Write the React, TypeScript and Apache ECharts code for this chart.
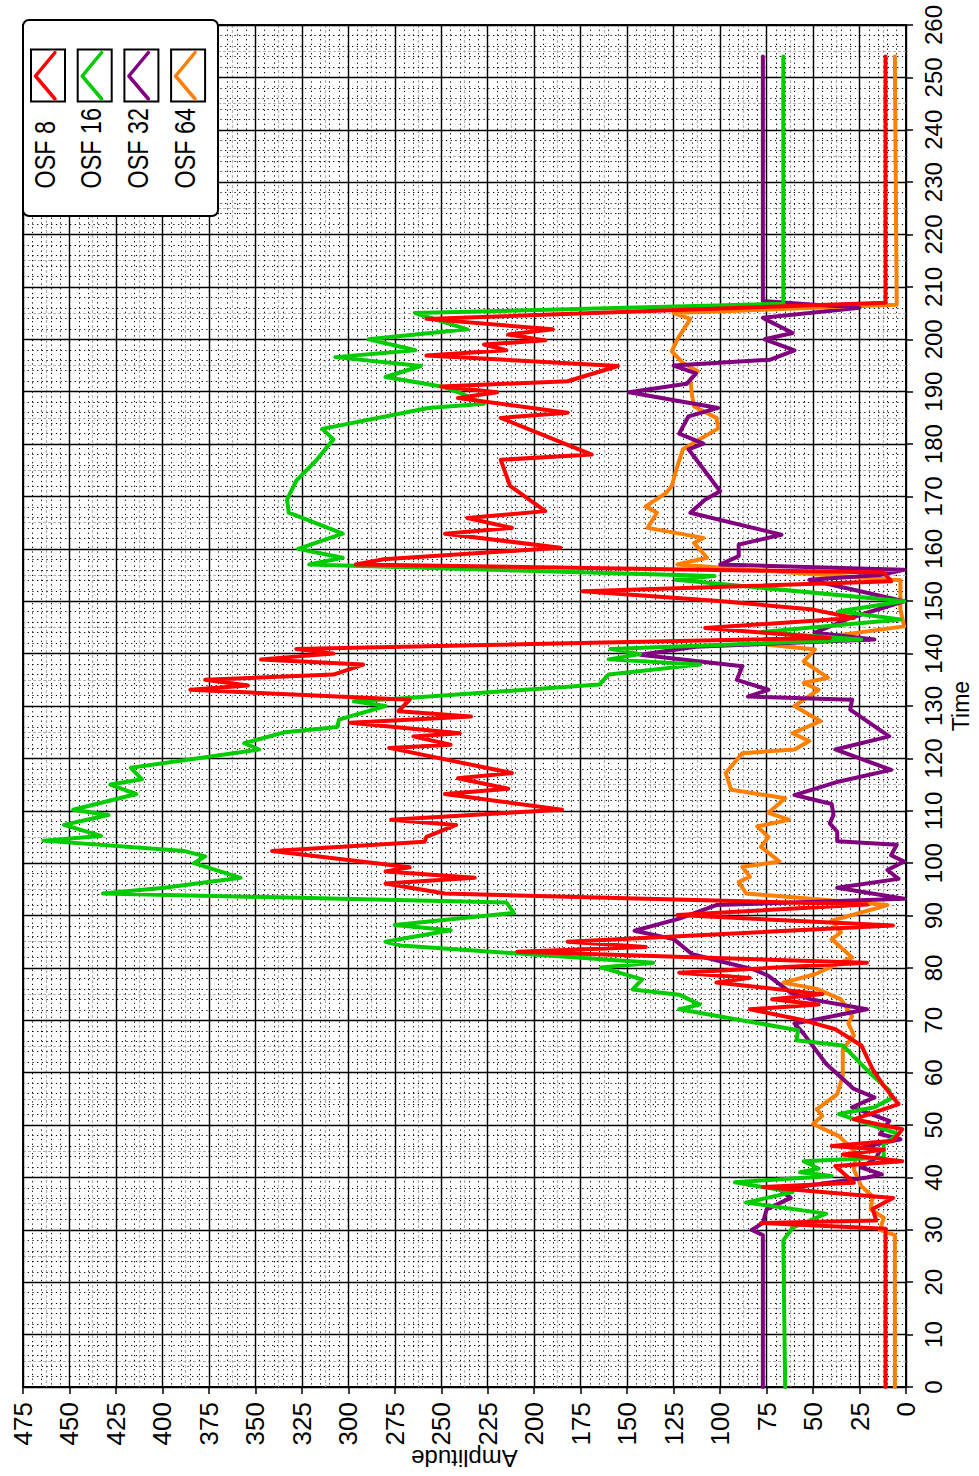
import React, { useEffect, useRef } from "react";
import * as echarts from "echarts";

// [time, amplitude]
const osf8: [number, number][] = [
  [0, 11], [30.2, 11], [31.3, 78], [31.8, 16], [34, 18], [36.1, 7], [38.2, 77], [39, 28], [42.2, 38], [43.1, 2],
  [44.4, 34], [45.3, 12], [46, 40], [47, 7], [49.2, 2], [51.1, 28], [54, 4], [57.5, 12], [60.7, 18], [65.2, 24],
  [68.3, 38], [70, 55], [72.1, 84], [73, 47], [74, 72], [75, 45], [77.2, 102], [78.1, 84], [79.1, 122], [81, 21],
  [83.1, 209], [84, 140], [85, 182], [88.1, 7], [90.1, 123], [92.1, 21], [94.2, 248], [96.1, 280], [97.2, 232],
  [98.4, 280], [99.2, 267], [102.3, 341], [104.1, 259], [105, 258], [107.3, 242], [108.3, 277], [110.2, 185],
  [113.2, 248], [114.2, 214], [116.2, 241], [117.2, 212], [122, 278], [122.6, 245], [124.2, 265], [124.8, 240],
  [126.8, 299], [128, 234], [129, 273], [131.2, 267], [133.1, 385], [133.9, 354], [135, 377], [136, 308],
  [137.9, 292], [138.9, 347], [140, 308], [140.9, 328], [143, 41], [144.9, 108], [146.8, 28], [148.4, 50],
  [150, 99], [151.9, 174], [153.8, 8], [155.5, 12], [157, 296], [158, 281], [160.2, 186], [162.9, 248],
  [164, 212], [165.9, 236], [167.2, 194], [172, 213], [177, 218], [178, 169], [185, 218], [186, 182],
  [188.8, 241], [189.9, 220], [191, 250], [192, 182], [194.9, 155], [196.9, 258], [197.9, 215], [199, 227],
  [199.8, 194], [200.9, 214], [201.9, 190], [203.9, 258], [207, 11], [254, 11],
];

const osf16: [number, number][] = [
  [0, 65], [28, 66], [30.4, 61], [33.1, 43], [35.2, 86], [37.2, 61], [39.1, 92], [40.3, 40], [41, 57], [41.7, 47],
  [43.1, 55], [43.8, 12], [46.3, 12], [48.3, 4], [52.1, 36], [53.4, 17], [55.1, 8], [56.6, 9], [59.8, 19],
  [65.2, 34], [66.2, 59], [68.1, 58], [72.1, 122], [73, 111], [74.9, 122], [75.9, 147], [77.8, 142], [80.1, 164],
  [81, 136], [84.3, 272], [85, 280], [87.2, 245], [88.2, 275], [90.5, 211], [92.5, 215], [94.2, 432], [95.3, 399],
  [97.2, 358], [100, 383], [101.3, 377], [102.3, 388], [104.3, 464], [105.2, 433], [107.3, 453], [109.2, 429],
  [110.2, 448], [113.2, 414], [115, 428], [116, 411], [118.2, 417], [121.7, 348], [122.9, 356], [125, 334],
  [126, 306], [127.4, 305], [130, 280], [130.9, 297], [131.5, 270], [134.1, 165], [136, 160], [137.9, 111],
  [138.9, 160], [139.9, 143], [140.9, 159], [142.7, 24], [144.1, 78], [146.5, 3], [148.1, 36], [150, 1],
  [154.1, 124], [154.8, 103], [157, 321], [158.3, 303], [160, 327], [162.9, 303], [166.9, 332], [169.4, 333],
  [173, 328], [177, 317], [180.9, 308], [182.9, 314], [186.9, 257], [187.7, 227], [189.8, 240], [191, 250],
  [192.8, 280], [194.9, 261], [196.6, 307], [197.9, 264], [200, 289], [201.9, 236], [205, 264], [206.8, 66],
  [254, 66],
];

const osf32: [number, number][] = [
  [0, 77], [29, 77], [30, 83], [31.3, 77], [33.9, 75], [36.1, 62], [37.7, 68], [40, 21], [40.6, 13], [41.9, 24],
  [43.8, 16], [45.1, 14], [45.7, 24], [47.3, 3], [48.3, 14], [50.8, 9], [53.4, 29], [55.3, 17], [56.9, 28],
  [61.7, 43], [67.4, 55], [69.4, 60], [70.1, 49], [72.1, 21], [74, 51], [75.3, 62], [78.5, 74], [79.7, 82],
  [82.6, 115], [85.5, 125], [87.1, 146], [89.4, 122], [92, 102], [93.2, 1], [95.3, 37], [97, 4], [98.7, 10],
  [100.3, 1], [101.5, 8], [103.5, 5], [104.2, 37], [106, 37], [107.6, 41], [109.2, 39], [111.3, 40], [113, 60],
  [115.6, 36], [117.8, 8], [121.7, 38], [124.2, 9], [129.3, 30], [131.2, 29], [131.8, 85], [133.1, 74], [135, 91],
  [137.6, 88], [139.8, 143], [141.3, 113], [142.7, 17], [144, 49], [146.8, 30], [150, 1], [154.1, 52], [155, 14],
  [156, 1], [157, 100], [158.6, 90], [160.8, 90], [162.7, 67], [166.9, 116], [169.4, 108], [171, 100], [179, 117],
  [180.1, 109], [182, 122], [185.3, 117], [186.9, 101], [189.9, 149], [191.5, 118], [193.5, 113], [195, 125],
  [196.1, 73], [197.9, 60], [200, 76], [201.2, 61], [204.1, 77], [206, 25], [207.3, 77], [254, 77],
];

const osf64: [number, number][] = [
  [0, 6], [29, 6], [30, 14], [32.3, 12], [33.9, 19], [36.4, 18], [38.3, 24], [41.5, 28], [44.7, 27], [47.9, 36],
  [50.2, 50], [51.8, 45], [53, 48], [55.9, 37], [59.4, 34], [64.5, 34], [67.1, 28], [69.4, 31], [70.8, 29],
  [74, 35], [76, 48], [77.2, 66], [78.8, 49], [82, 29], [85.5, 40], [86.8, 35], [89, 40], [92, 10], [94.2, 86],
  [96.4, 90], [97.4, 84], [99.3, 88], [100.3, 68], [103.1, 78], [105, 74], [107, 80], [108.3, 63], [109.6, 74],
  [112.4, 65], [114, 94], [117.2, 97], [121, 88], [121.7, 60], [123.3, 52], [124.8, 61], [127.1, 46], [130, 60],
  [131.2, 55], [133.1, 47], [134.4, 55], [135.4, 42], [138.5, 55], [140.8, 49], [141.7, 74], [145.2, 1],
  [148.4, 3], [154, 3], [157, 123], [158.3, 107], [161.1, 114], [162.1, 109], [164, 139], [166.9, 134],
  [168.1, 140], [170.7, 129], [172, 126], [175.8, 123], [179, 120], [183, 101], [185, 102], [187.2, 114],
  [189.1, 115], [192.3, 116], [193.9, 112], [195.5, 120], [197.7, 126], [200, 123], [203.9, 116], [205, 125],
  [206.6, 5], [254, 6],
];

const seriesNames = ["OSF 8", "OSF 16", "OSF 32", "OSF 64"];
const seriesColors = ["#ff0000", "#00cc00", "#800080", "#ff8000"];
const seriesData = [osf8, osf16, osf32, osf64];

const NARROW = "'Liberation Sans Narrow', 'Arial Narrow', 'Liberation Sans', Arial, sans-serif";
const REGULAR = "'Liberation Sans', Arial, Helvetica, sans-serif";

export default function App() {
  const ref = useRef<HTMLDivElement>(null);
  useEffect(() => {
    if (!ref.current) return;
    const chart = echarts.init(ref.current, undefined, { renderer: "svg" });

    const legendEls: any[] = [
      {
        type: "rect",
        shape: { x: 23, y: 20, width: 195, height: 196, r: 6 },
        style: { fill: "#fff", stroke: "#000", lineWidth: 2 },
        z: 100,
      },
    ];
    seriesNames.forEach((name, i) => {
      const bx = 31 + i * 46.7;
      legendEls.push({
        type: "rect",
        shape: { x: bx, y: 49.5, width: 34, height: 52 },
        style: { fill: "#fff", stroke: "#000", lineWidth: 2 },
        z: 101,
      });
      legendEls.push({
        type: "polyline",
        shape: { points: [[bx + 24, 52.5], [bx + 4.5, 76], [bx + 24, 99]] },
        style: { stroke: seriesColors[i], lineWidth: 3.5, fill: null, lineJoin: "round", lineCap: "round" },
        z: 102,
      });
      legendEls.push({
        type: "text",
        x: 44.5 + i * 46.7,
        y: 188.5,
        rotation: Math.PI / 2,
        scaleX: 0.78,
        style: {
          text: name,
          fontSize: 30,
          fontFamily: NARROW,
          fill: "#000",
          align: "left",
          verticalAlign: "middle",
          textAlign: "left",
          textVerticalAlign: "middle",
        },
        z: 102,
      });
    });

    const hidden = {
      axisLine: { show: false },
      axisTick: { show: false },
      axisLabel: { show: false },
    };

    const option: any = {
      animation: false,
      backgroundColor: "#fff",
      grid: {
        left: 23,
        top: 25,
        width: 883,
        height: 1362,
        show: true,
        borderColor: "#000",
        borderWidth: 2,
        backgroundColor: "transparent",
        containLabel: false,
        outerBoundsMode: "none",
      },
      xAxis: [
        {
          type: "value",
          min: 0,
          max: 475,
          interval: 25,
          inverse: true,
          position: "bottom",
          offset: 3,
          z: 2,
          axisLine: { show: false },
          axisTick: { show: true, length: 7, lineStyle: { color: "#000", width: 1.5 } },
          axisLabel: { rotate: 90, margin: 12, fontSize: 26, fontFamily: NARROW, color: "#000" },
          splitLine: { show: true, lineStyle: { color: "#000", width: 1.4 } },
          minorTick: { show: true, splitNumber: 5, length: 0, lineStyle: { width: 0 } },
          minorSplitLine: { show: true, lineStyle: { color: "#000", width: 1, type: [1.2, 3.5] } },
          name: "Amplitude",
          nameLocation: "middle",
          nameGap: 56,
          nameRotate: 180,
          nameMoveOverlap: false,
          nameTextStyle: { fontSize: 24, fontFamily: REGULAR, color: "#000" },
        },
        {
          type: "value",
          min: 0,
          max: 475,
          interval: 12.5,
          inverse: true,
          position: "top",
          z: 1,
          ...hidden,
          splitLine: { show: true, lineStyle: { color: "#b4b4b4", width: 1.2, type: [3, 2] } },
        },
      ],
      yAxis: [
        {
          type: "value",
          min: 0,
          max: 260,
          interval: 10,
          position: "right",
          offset: 3,
          z: 2,
          axisLine: { show: false },
          axisTick: { show: true, length: 7, lineStyle: { color: "#000", width: 1.5 } },
          axisLabel: { rotate: 90, margin: 12, fontSize: 24, fontFamily: NARROW, color: "#000" },
          splitLine: { show: true, lineStyle: { color: "#000", width: 1.4 } },
          minorTick: { show: true, splitNumber: 5, length: 0, lineStyle: { width: 0 } },
          minorSplitLine: { show: true, lineStyle: { color: "#000", width: 1, type: [1.2, 3.5] } },
          name: "Time",
          nameLocation: "middle",
          nameGap: 40,
          nameRotate: 90,
          nameMoveOverlap: false,
          nameTextStyle: { fontSize: 23, fontFamily: REGULAR, color: "#000" },
        },
        {
          type: "value",
          min: 0,
          max: 260,
          interval: 5,
          position: "left",
          z: 1,
          ...hidden,
          splitLine: { show: true, lineStyle: { color: "#b4b4b4", width: 1.2, type: [3, 2] } },
        },
      ],
      series: [3, 2, 1, 0].map((i) => ({
        name: seriesNames[i],
        type: "line",
        xAxisIndex: 0,
        yAxisIndex: 0,
        showSymbol: false,
        symbol: "none",
        silent: true,
        z: 3,
        lineStyle: { color: seriesColors[i], width: 4, join: "round", cap: "round" },
        itemStyle: { color: seriesColors[i] },
        data: seriesData[i].map(([t, a]) => [a, t]),
      })),
      graphic: { elements: legendEls },
    };

    chart.setOption(option);
    return () => chart.dispose();
  }, []);

  return (
    <div
      ref={ref}
      style={{ position: "fixed", left: 0, top: 0, width: 979, height: 1476, background: "#fff" }}
    />
  );
}
